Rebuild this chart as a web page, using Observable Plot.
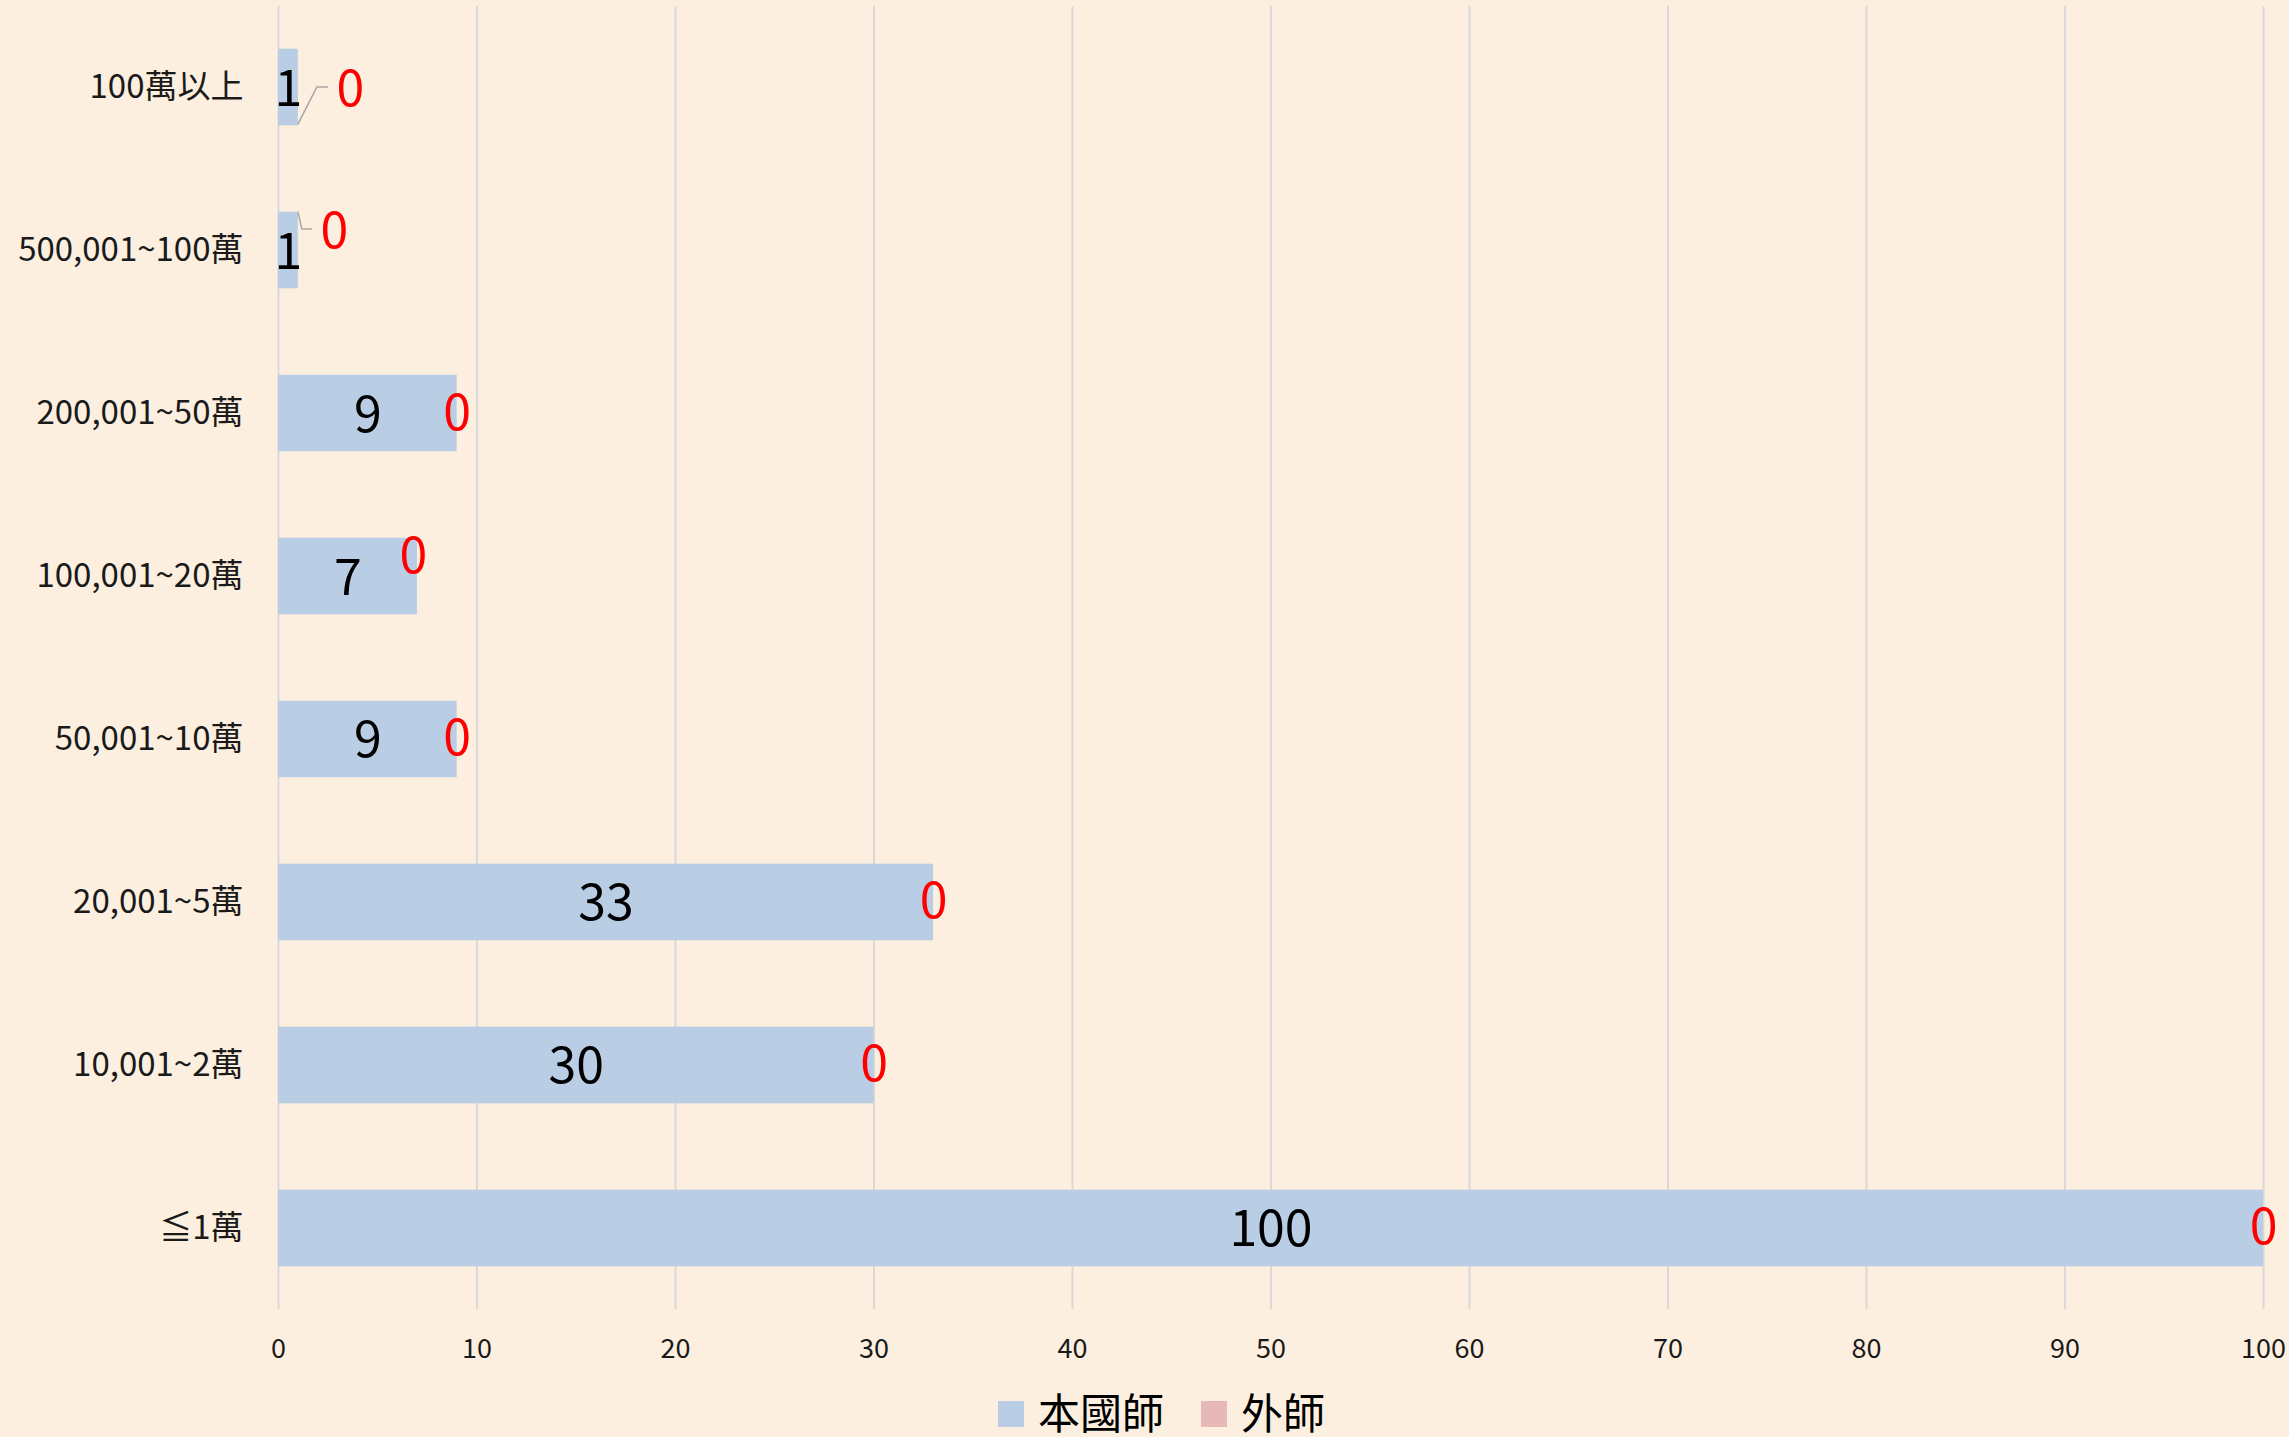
<!DOCTYPE html>
<html>
<head>
<meta charset="utf-8">
<script src="https://cdn.jsdelivr.net/npm/d3@7"></script>
<script src="https://cdn.jsdelivr.net/npm/@observablehq/plot@0.6"></script>
<style>
  html, body { margin: 0; padding: 0; background: #fcefdf; overflow: hidden; }
  #wrap { width: 2289px; height: 1437px; font-family: "Noto Sans CJK TC", "Noto Sans", sans-serif; color: #000; }
  #legend { height: 52px; display: flex; justify-content: center; align-items: center; font-size: 42px; line-height: 1; padding-left: 34px; }
  .item { display: flex; align-items: center; }
  .swatch { width: 26px; height: 26px; margin-right: 14px; margin-top: 6px; }
  .item + .item { margin-left: 37px; }
</style>
</head>
<body>
<div id="wrap"><div id="chart"></div><div id="legend"></div></div>
<script>
// ---- data ----
const categories = ["100萬以上", "500,001~100萬", "200,001~50萬", "100,001~20萬", "50,001~10萬", "20,001~5萬", "10,001~2萬", "≦1萬"];
const seriesNames = ["本國師", "外師"];
const domestic = [1, 1, 9, 7, 9, 33, 30, 100];
const foreign = [0, 0, 0, 0, 0, 0, 0, 0];
const xTicks = [0, 10, 20, 30, 40, 50, 60, 70, 80, 90, 100];

// ---- styling ----
const seriesColors = ["#b9cde5", "#e6b9b8"];
const labelColors = ["#000000", "#ff0000"];
const FONT = '"Noto Sans CJK TC", "Noto Sans", sans-serif';
// pixel nudges for crowded 外師 labels (category index -> [dx, dy])
const nudges = {0: [52, 2], 1: [36, -19], 3: [-4, -20]};

// stacked segments: 本國師 first, 外師 after it
const rows = [];
categories.forEach((c, i) => {
  rows.push({cat: c, idx: i, series: seriesNames[0], x1: 0, x2: domestic[i], value: domestic[i]});
  rows.push({cat: c, idx: i, series: seriesNames[1], x1: domestic[i], x2: domestic[i] + foreign[i], value: foreign[i]});
});
const domRows = rows.filter(d => d.series === seriesNames[0]);
const forRows = rows.filter(d => d.series === seriesNames[1]);
const mid = d => (d.x1 + d.x2) / 2;

const marks = [
  Plot.gridX({ticks: xTicks, stroke: "#d9d9d9", strokeOpacity: 1, strokeWidth: 2}),
  Plot.barX(rows, {x1: "x1", x2: "x2", y: "cat", fill: "series"}),
  Plot.axisX({ticks: xTicks, tickSize: 0, tickPadding: 29, fontSize: 27, fill: "#1a1a1a", label: null, fontFamily: FONT}),
  Plot.axisY({tickSize: 0, tickPadding: 35, fontSize: 33, fill: "#1a1a1a", label: null, fontFamily: FONT}),
  Plot.text(domRows, {x: mid, y: "cat", text: d => String(d.value), fill: labelColors[0], fontSize: 50, fontFamily: FONT, dy: 2}),
  Plot.text(forRows.filter(d => !(d.idx in nudges)), {x: mid, y: "cat", text: d => String(d.value), fill: labelColors[1], fontSize: 50, fontFamily: FONT})
];
Object.entries(nudges).forEach(([k, [dx, dy]]) => {
  marks.push(Plot.text(forRows.filter(d => d.idx === +k), {x: mid, y: "cat", text: d => String(d.value),
    fill: labelColors[1], fontSize: 50, fontFamily: FONT, dx, dy}));
});

const plot = Plot.plot({
  width: 2289,
  height: 1385,
  marginLeft: 278,
  marginRight: 26,
  marginTop: 6,
  marginBottom: 76,
  style: {background: "transparent", fontFamily: FONT},
  x: {domain: [0, 100]},
  y: {domain: categories, paddingInner: 0.53, paddingOuter: 0.262, round: false},
  color: {domain: seriesNames, range: seriesColors},
  marks
});

// leader lines for the two top labels, positioned from the plot's own scales
(function addLeaders() {
  const xs = plot.scale("x"), ys = plot.scale("y");
  const xf = d3.scaleLinear(xs.domain, xs.range);
  const yf = d3.scaleBand(ys.domain, ys.range).paddingInner(ys.paddingInner).paddingOuter(ys.paddingOuter).align(ys.align ?? 0.5);
  const bw = yf.bandwidth();
  const svg = d3.select(plot);
  const g = svg.append("g").attr("fill", "none").attr("stroke", "#a6a6a6").attr("stroke-width", 1.5);
  {
    const xe = xf(domestic[0] + foreign[0]);
    const yc = yf(categories[0]) + bw / 2;
    g.append("path").attr("d", `M${xe},${yc + bw / 2 - 1}L${xe + 19},${yc}L${xe + 30},${yc}`);
  }
  {
    const xe = xf(domestic[1] + foreign[1]);
    const yt = yf(categories[1]);
    const yl = yt + bw / 2 - 21;
    g.append("path").attr("d", `M${xe},${yt}L${xe + 4},${yl}L${xe + 14},${yl}`);
  }
})();

document.getElementById("chart").appendChild(plot);

const legend = document.getElementById("legend");
seriesNames.forEach((s, i) => {
  const it = document.createElement("div");
  it.className = "item";
  const sw = document.createElement("div");
  sw.className = "swatch";
  sw.style.background = seriesColors[i];
  const t = document.createElement("span");
  t.textContent = s;
  it.appendChild(sw); it.appendChild(t);
  legend.appendChild(it);
});
</script>
</body>
</html>
